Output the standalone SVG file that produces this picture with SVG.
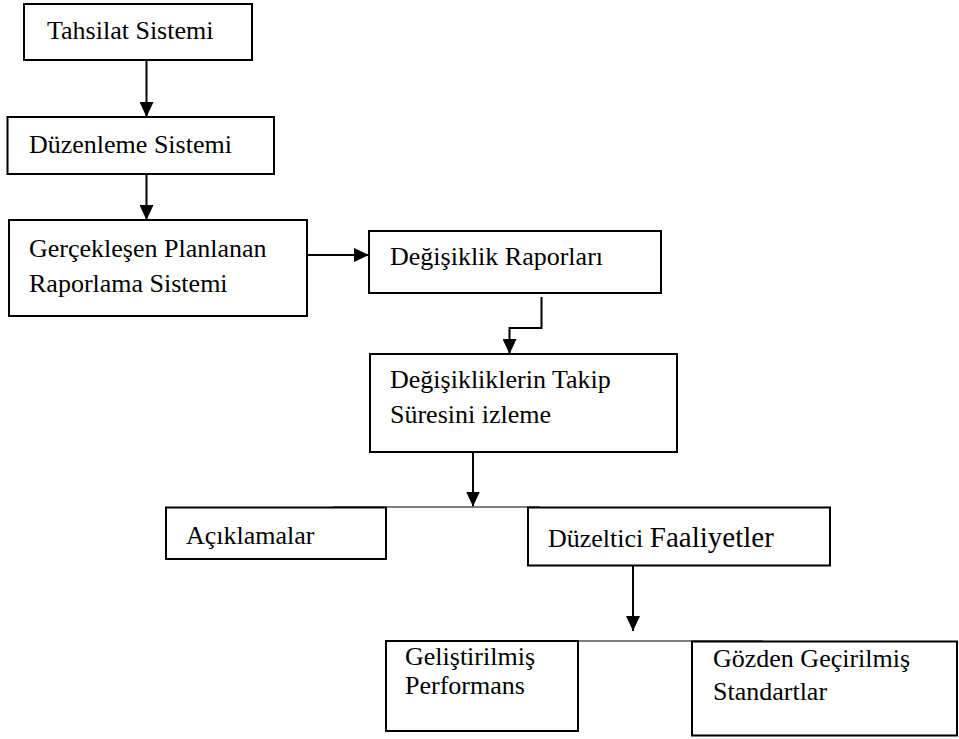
<svg xmlns="http://www.w3.org/2000/svg" width="959" height="739" viewBox="0 0 959 739">
<style>
.box{fill:#fff;stroke:#000;stroke-width:2}
.c{fill:none;stroke:#000;stroke-width:2}
.b{fill:none;stroke:#555;stroke-width:1.5}
</style>
<defs>
<marker id="ah" viewBox="0 0 15 14" refX="15" refY="7" markerWidth="15" markerHeight="14" orient="auto" markerUnits="userSpaceOnUse">
<path d="M0,0 L15,7 L0,14 Z" fill="#000"/>
</marker>
</defs>
<rect width="959" height="739" fill="#fff"/>
<g id="connectors">
<line class="c" x1="146.5" y1="60" x2="146.5" y2="117" marker-end="url(#ah)"/>
<line class="c" x1="146.5" y1="175" x2="146.5" y2="220" marker-end="url(#ah)"/>
<line class="c" x1="307" y1="255" x2="369" y2="255" marker-end="url(#ah)"/>
<polyline class="c" points="541.5,297 541.5,328 509.5,328 509.5,354" marker-end="url(#ah)"/>
<line class="c" x1="473" y1="452" x2="473" y2="506.5" marker-end="url(#ah)"/>
<line class="b" x1="333" y1="507" x2="540" y2="507"/>
<line class="c" x1="633" y1="566" x2="633" y2="631" marker-end="url(#ah)"/>
<line class="b" x1="553" y1="641" x2="763" y2="641"/>
</g>
<g font-family="Liberation Serif, Times New Roman, serif" font-size="26" fill="#000">
<g id="n1"><rect class="box" x="24" y="4" width="228" height="56"/><text x="47" y="39">Tahsilat Sistemi</text></g>
<g id="n2"><rect class="box" x="7.5" y="117" width="266.5" height="57"/><text x="29" y="153">Düzenleme Sistemi</text></g>
<g id="n3"><rect class="box" x="9" y="220" width="298" height="96"/><text x="29" y="257">Gerçekleşen Planlanan</text><text x="29" y="292">Raporlama Sistemi</text></g>
<g id="n4"><rect class="box" x="369" y="231" width="292" height="62"/><text x="390" y="265">Değişiklik Raporları</text></g>
<g id="n5"><rect class="box" x="370" y="354" width="307" height="98"/><text x="390" y="388">Değişikliklerin Takip</text><text x="390" y="423">Süresini izleme</text></g>
<g id="n6"><rect class="box" x="166" y="507.5" width="220" height="51.5"/><text x="186" y="544">Açıklamalar</text></g>
<g id="n7"><rect class="box" x="528" y="507.5" width="302" height="58"/><text x="548" y="547">Düzeltici <tspan font-size="29">Faaliyetler</tspan></text></g>
<g id="n8"><rect class="box" x="386" y="641" width="192" height="90"/><text x="405" y="665">Geliştirilmiş</text><text x="405" y="694">Performans</text></g>
<g id="n9"><rect class="box" x="692" y="641.5" width="265" height="94"/><text x="713" y="667">Gözden Geçirilmiş</text><text x="713" y="700">Standartlar</text></g>
</g>
</svg>
